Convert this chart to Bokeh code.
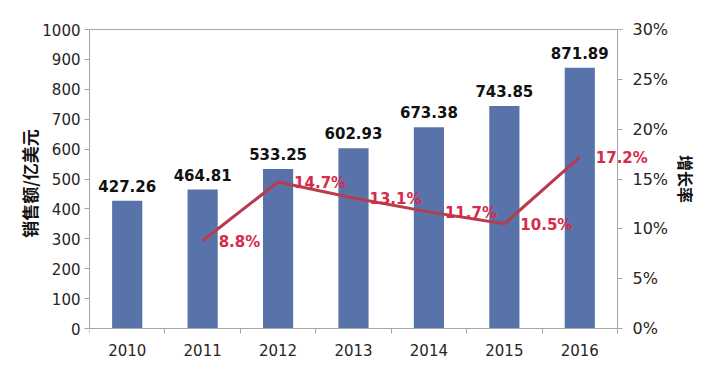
from bokeh.plotting import figure
from bokeh.models import (ColumnDataSource, Range1d, LinearAxis, FixedTicker,
                          PrintfTickFormatter, LabelSet)
from bokeh.core.properties import value
from bokeh.embed import file_html
from bokeh.resources import INLINE

years = ["2010", "2011", "2012", "2013", "2014", "2015", "2016"]
sales = [427.26, 464.81, 533.25, 602.93, 673.38, 743.85, 871.89]
growth_years = ["2011", "2012", "2013", "2014", "2015", "2016"]
growth = [8.8, 14.7, 13.1, 11.7, 10.5, 17.2]
sales_max = 1000
pct_max = 30

FONT = "DejaVu Sans"
CJK = "Noto Sans CJK SC"
BAR = "#5873A9"
LINE = "#B83B4E"
LBL = "#D62B4B"
TXT = "#262626"
AX = "#A6A6A6"

# layout (pixels): the frame covers the whole area right of the left axis so
# that nothing (labels, right axis) gets clipped; the plot area inside it is
# LEFT..LEFT+PLOT_W x PLOT_T..PLOT_B
W, H = 698, 362
LEFT, FTOP = 89, 4
PLOT_W, PLOT_T, PLOT_B = 528, 29, 328
n = len(years)
FRAME_W = W - LEFT
PLOT_H = PLOT_B - PLOT_T
x_end = n * FRAME_W / PLOT_W
y_start = -(H - PLOT_B) * sales_max / PLOT_H
y_end = sales_max + (PLOT_T - FTOP) * sales_max / PLOT_H
p_start = -(H - PLOT_B) * pct_max / PLOT_H
p_end = pct_max + (PLOT_T - FTOP) * pct_max / PLOT_H

xpos = [years.index(y) + 0.5 for y in years]
gxpos = [years.index(y) + 0.5 for y in growth_years]

bar_src = ColumnDataSource(dict(x=xpos, top=sales,
                                label=["%.2f" % v for v in sales]))
line_src = ColumnDataSource(dict(x=gxpos, y=growth,
                                 label=["%.1f%%" % v for v in growth]))

p = figure(width=W, height=H, output_backend="svg", toolbar_location=None,
           x_range=Range1d(0, x_end), y_range=Range1d(y_start, y_end),
           min_border_left=LEFT, min_border_right=0, min_border_top=FTOP,
           min_border_bottom=0)
p.extra_y_ranges = {"pct": Range1d(p_start, p_end)}

p.xgrid.visible = False
p.ygrid.visible = False
p.outline_line_color = None
p.background_fill_color = "white"
p.border_fill_color = "white"

p.vbar(x="x", top="top", width=0.4, bottom=0, source=bar_src,
       fill_color=BAR, line_color=None)
p.line(x="x", y="y", source=line_src, y_range_name="pct",
       line_color=LINE, line_width=3)

p.add_layout(LabelSet(x="x", y="top", text="label", source=bar_src,
                      text_align="center", text_baseline="bottom", y_offset=9,
                      text_font=value(FONT), text_font_size="15px",
                      text_font_style="bold", text_color="#111111",
                      level="overlay"))
p.add_layout(LabelSet(x="x", y="y", text="label", source=line_src,
                      y_range_name="pct", text_align="left",
                      text_baseline="middle", x_offset=16, y_offset=-1,
                      text_font=value(FONT), text_font_size="15px",
                      text_font_style="bold", text_color=LBL,
                      level="overlay"))

# x axis: labels at category centres, ticks at boundaries
xa = p.xaxis[0]
xa.fixed_location = 0
xa.bounds = (0, n)
xa.ticker = FixedTicker(ticks=xpos, minor_ticks=list(range(n + 1)))
xa.major_label_overrides = {x: y for x, y in zip(xpos, years)}
xa.major_tick_out = 0
xa.major_tick_in = 0
xa.minor_tick_out = 5
xa.minor_tick_in = 0
xa.minor_tick_line_color = AX
xa.axis_line_color = AX
xa.major_label_standoff = 10
xa.major_label_text_font = FONT
xa.major_label_text_font_size = "15px"
xa.major_label_text_color = TXT

# top border of the plot area
ta = LinearAxis(ticker=FixedTicker(ticks=[]), bounds=(0, n),
                fixed_location=sales_max)
ta.axis_line_color = AX
ta.major_tick_line_color = None
ta.minor_tick_line_color = None
ta.major_label_text_font_size = "0px"
ta.major_label_standoff = 0
p.add_layout(ta, "above")

ya = p.yaxis[0]
ya.bounds = (0, sales_max)
ya.ticker = FixedTicker(ticks=list(range(0, sales_max + 1, 100)))
ya.minor_tick_line_color = None
ya.major_tick_out = 5
ya.major_tick_in = 0
ya.major_tick_line_color = AX
ya.axis_line_color = AX
ya.major_label_standoff = 4
ya.major_label_text_font = FONT
ya.major_label_text_font_size = "15px"
ya.major_label_text_color = TXT
ya.axis_label = "销售额/亿美元"
ya.axis_label_text_font = CJK
ya.axis_label_text_font_size = "17px"
ya.axis_label_text_font_style = "bold"
ya.axis_label_text_color = "#111111"
ya.axis_label_standoff = -3

ra = LinearAxis(y_range_name="pct", bounds=(0, pct_max), fixed_location=n,
                ticker=FixedTicker(ticks=list(range(0, pct_max + 1, 5))),
                formatter=PrintfTickFormatter(format="%d%%"))
ra.minor_tick_line_color = None
ra.major_tick_out = 5
ra.major_tick_in = 0
ra.major_tick_line_color = AX
ra.axis_line_color = AX
ra.major_label_standoff = 10
ra.major_label_text_font = FONT
ra.major_label_text_font_size = "16px"
ra.major_label_text_color = TXT
ra.axis_label = "增长率"
ra.axis_label_text_font = CJK
ra.axis_label_text_font_size = "16px"
ra.axis_label_text_font_style = "bold"
ra.axis_label_text_color = "#111111"
ra.axis_label_standoff = 3
p.add_layout(ra, "right")

open("out.html", "w").write(file_html(p, INLINE))
